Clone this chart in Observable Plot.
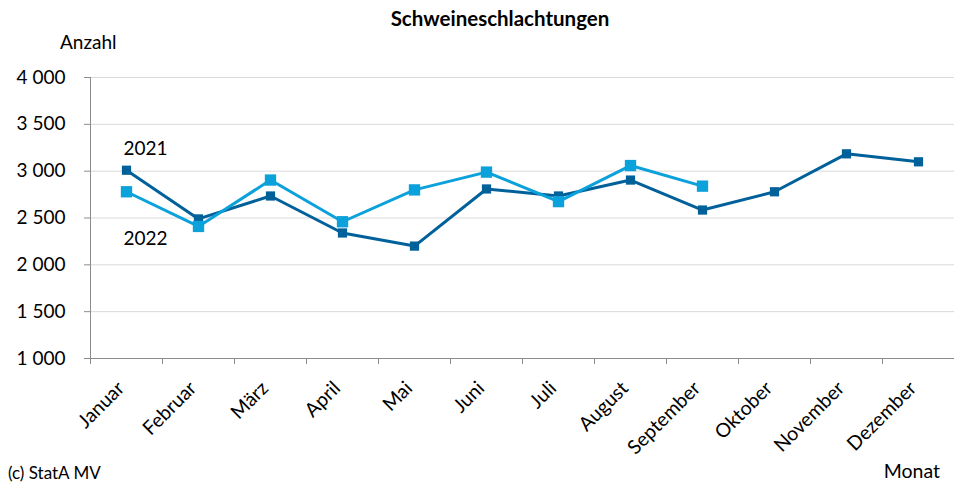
<!DOCTYPE html>
<html>
<head>
<meta charset="utf-8">
<script src="https://cdn.jsdelivr.net/npm/d3@7"></script>
<script src="https://cdn.jsdelivr.net/npm/@observablehq/plot@0.6"></script>
<style>
  body { margin: 0; background: #fff; }
  #wrap { position: relative; width: 954px; height: 483px; font-family: Lato, "Open Sans", sans-serif; color: #000; }
  #wrap svg { position: absolute; left: 0; top: 0; }
  .lbl { position: absolute; white-space: nowrap; line-height: 1; }
</style>
</head>
<body>
<div id="wrap">
  <div class="lbl" style="left:0;width:1000px;top:8px;text-align:center;font-weight:bold;font-size:20.5px;">Schweineschlachtungen</div>
  <div class="lbl" style="left:60px;top:32px;font-size:19px;">Anzahl</div>
  <div class="lbl" style="left:8px;top:464px;font-size:17px;">(c) StatA MV</div>
  <div class="lbl" style="right:14px;top:461px;font-size:19.5px;">Monat</div>
</div>
<script>
const months = ["Januar", "Februar", "März", "April", "Mai", "Juni", "Juli", "August", "September", "Oktober", "November", "Dezember"];
const values2021 = [3010, 2490, 2735, 2340, 2200, 2810, 2735, 2905, 2585, 2780, 3185, 3100];
const values2022 = [2780, 2410, 2905, 2460, 2800, 2990, 2675, 3060, 2840];
const yTicks = [1000, 1500, 2000, 2500, 3000, 3500, 4000];
const seriesNames = ["2021", "2022"];

const dark = "#00609a";
const light = "#0ba1da";

const d2021 = values2021.map((v, i) => ({i, v, month: months[i]}));
const d2022 = values2022.map((v, i) => ({i, v, month: months[i]}));
const boundaries = months.map((_, i) => i - 0.5).concat([months.length - 0.5]);

const chart = Plot.plot({
  width: 954,
  height: 483,
  marginLeft: 90,
  marginRight: 0,
  marginTop: 77,
  marginBottom: 125,
  style: {fontFamily: "Lato, 'Open Sans', sans-serif", background: "transparent", color: "#000"},
  x: {type: "linear", domain: [-0.5, months.length - 0.5], axis: null},
  y: {domain: [1000, 4000], axis: null},
  marks: [
    Plot.gridY(yTicks.filter(t => t > 1000), {stroke: "#d9d9d9", strokeOpacity: 1, strokeWidth: 1}),
    Plot.ruleY([yTicks[0]], {stroke: "#8c8c8c", strokeWidth: 1}),
    Plot.frame({anchor: "left", stroke: "#8c8c8c", strokeWidth: 1}),
    Plot.axisY({ticks: yTicks, tickFormat: d => d3.format(",")(d).replace(",", " "), tickSize: 6, tickPadding: 19, fontSize: 19, stroke: "#8c8c8c", color: "#000", label: null}),
    Plot.axisX({ticks: boundaries, tickFormat: () => "", tickSize: 6, stroke: "#8c8c8c", label: null}),
    Plot.text(months, {x: (d, i) => i, frameAnchor: "bottom", text: d => d, rotate: -45, textAnchor: "end", dy: 31, dx: -1, fontSize: 19.5, fill: "#000"}),
    Plot.line(d2021, {x: "i", y: "v", stroke: dark, strokeWidth: 3}),
    Plot.dot(d2021, {x: "i", y: "v", symbol: "square", r: 5.2, fill: dark, stroke: null}),
    Plot.line(d2022, {x: "i", y: "v", stroke: light, strokeWidth: 3}),
    Plot.dot(d2022, {x: "i", y: "v", symbol: "square", r: 6.4, fill: light, stroke: null}),
    Plot.text([d2021[0]], {x: "i", y: "v", text: () => seriesNames[0], dx: 19, dy: -21, fontSize: 19, fill: "#000"}),
    Plot.text([d2022[0]], {x: "i", y: "v", text: () => seriesNames[1], dx: 19, dy: 47, fontSize: 19, fill: "#000"})
  ]
});
document.getElementById("wrap").prepend(chart);
</script>
</body>
</html>
